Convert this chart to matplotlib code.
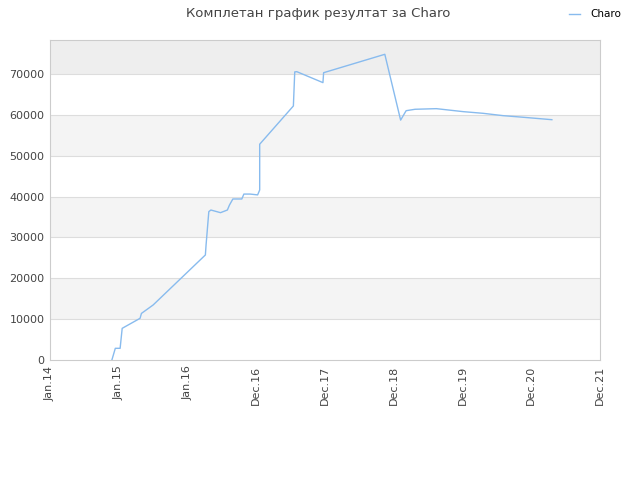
import matplotlib
matplotlib.use("Agg")
import matplotlib.pyplot as plt

# score history for Charo, x in decimal years
years = [
    2014.90, 2014.95, 2015.02, 2015.05, 2015.31, 2015.33, 2015.50,
    2016.26, 2016.27, 2016.31, 2016.34, 2016.48, 2016.58, 2016.61,
    2016.66, 2016.79, 2016.82, 2016.91, 2017.02, 2017.05, 2017.05,
    2017.54, 2017.56, 2017.59, 2017.97, 2017.98, 2018.87, 2019.10,
    2019.18, 2019.31, 2019.62, 2020.01, 2020.30, 2020.59, 2020.88,
    2021.30,
]
scores = [
    0, 2860, 2860, 7750, 10200, 11400, 13460,
    25700, 28140, 36300, 36700, 36050, 36700, 37900,
    39400, 39400, 40600, 40600, 40400, 41600, 52800,
    62160, 70500, 70550, 67870, 70300, 74800, 58700,
    61000, 61350, 61500, 60770, 60360, 59790, 59400,
    58800,
]

tick_pos = [2014, 2015, 2016, 2017, 2018, 2019, 2020, 2021, 2022]
tick_labels = ["Jan.14", "Jan.15", "Jan.16", "Dec.16", "Dec.17",
               "Dec.18", "Dec.19", "Dec.20", "Dec.21"]

fig = plt.figure(figsize=(6.4, 4.8), dpi=100)
ax = fig.add_axes([50 / 640, 120 / 480, 550 / 640, 320 / 480])

ymax = 78300
# alternating horizontal bands
for lo in range(0, 80000, 10000):
    band = lo // 10000
    if lo >= 70000:
        color = "#eeeeee"
    elif band % 2 == 1:
        color = "#f4f4f4"
    else:
        color = "white"
    ax.axhspan(lo, min(lo + 10000, ymax), color=color, zorder=0, lw=0)
for lo in range(10000, 80000, 10000):
    ax.axhline(lo, color="#dddddd", lw=0.8, zorder=1)

ax.plot(years, scores, color="#88bbee", lw=1.0, label="Charo", zorder=3)

ax.set_xlim(2014, 2022)
ax.set_ylim(0, ymax)
ax.set_xticks(tick_pos)
ax.set_xticklabels(tick_labels, rotation=90)
ax.set_yticks(range(0, 80000, 10000))
ax.tick_params(length=0, labelsize=8, colors="#444444", pad=4)
for s in ax.spines.values():
    s.set_color("#cccccc")
    s.set_linewidth(0.8)

fig.suptitle("Комплетан график резултат за Charo", x=0.497, y=0.985,
             fontsize=9.5, color="#444444")
fig.legend(loc="upper right", bbox_to_anchor=(0.985, 1.0), frameon=False,
           fontsize=7.5, handlelength=1.0, handletextpad=1.0)

fig.savefig("out.png", dpi=100)
